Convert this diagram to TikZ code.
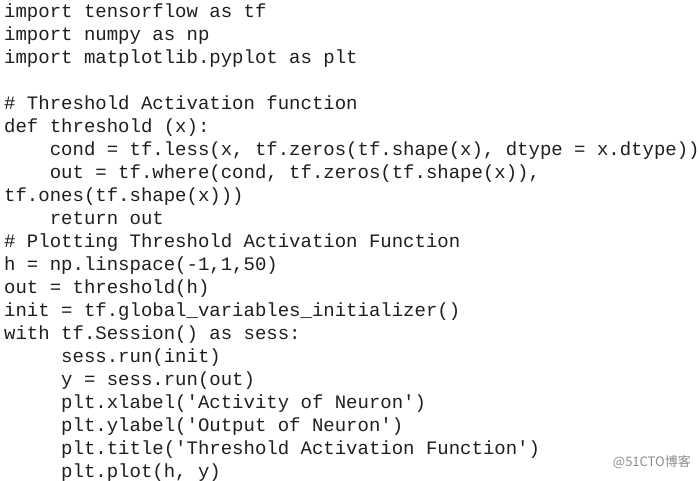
\documentclass[tikz,border=0pt]{standalone}
\usepackage{fontspec}
\setmonofont{Liberation Mono}
\newfontfamily\cjk{Noto Sans CJK SC}
\begin{document}
\begin{tikzpicture}[x=1pt,y=1pt,
  codeline/.style={anchor=base west,inner sep=0pt,font=\fontsize{19}{19}\ttfamily,text=black!88}]
\useasboundingbox[fill=white] (0,0) rectangle (700,-480);
\node[codeline] (l1) at (4,-17) {import tensorflow as tf};
\node[codeline] (l2) at (4,-40) {import numpy as np};
\node[codeline] (l3) at (4,-63) {import matplotlib.pyplot as plt};
\node[codeline] (l5) at (4,-109) {\# Threshold Activation function};
\node[codeline] (l6) at (4,-132) {def threshold (x):};
\node[codeline] (l7) at (4,-155) {\ \ \ \ cond = tf.less(x, tf.zeros(tf.shape(x), dtype = x.dtype))};
\node[codeline] (l8) at (4,-178) {\ \ \ \ out = tf.where(cond, tf.zeros(tf.shape(x)),};
\node[codeline] (l9) at (4,-201) {tf.ones(tf.shape(x)))};
\node[codeline] (l10) at (4,-224) {\ \ \ \ return out};
\node[codeline] (l11) at (4,-247) {\# Plotting Threshold Activation Function};
\node[codeline] (l12) at (4,-270) {h = np.linspace(-1,1,50)};
\node[codeline] (l13) at (4,-293) {out = threshold(h)};
\node[codeline] (l14) at (4,-316) {init = tf.global\_variables\_initializer()};
\node[codeline] (l15) at (4,-339) {with tf.Session() as sess:};
\node[codeline] (l16) at (4,-362) {\ \ \ \ \ sess.run(init)};
\node[codeline] (l17) at (4,-385) {\ \ \ \ \ y = sess.run(out)};
\node[codeline] (l18) at (4,-408) {\ \ \ \ \ plt.xlabel('Activity of Neuron')};
\node[codeline] (l19) at (4,-431) {\ \ \ \ \ plt.ylabel('Output of Neuron')};
\node[codeline] (l20) at (4,-454) {\ \ \ \ \ plt.title('Threshold Activation Function')};
\node[codeline] (l21) at (4,-477) {\ \ \ \ \ plt.plot(h, y)};
\node[anchor=east,inner sep=0pt,font=\cjk\fontsize{13}{13}\selectfont,text=black!45] (wm) at (691,-462) {@51CTO博客};
\end{tikzpicture}
\end{document}
